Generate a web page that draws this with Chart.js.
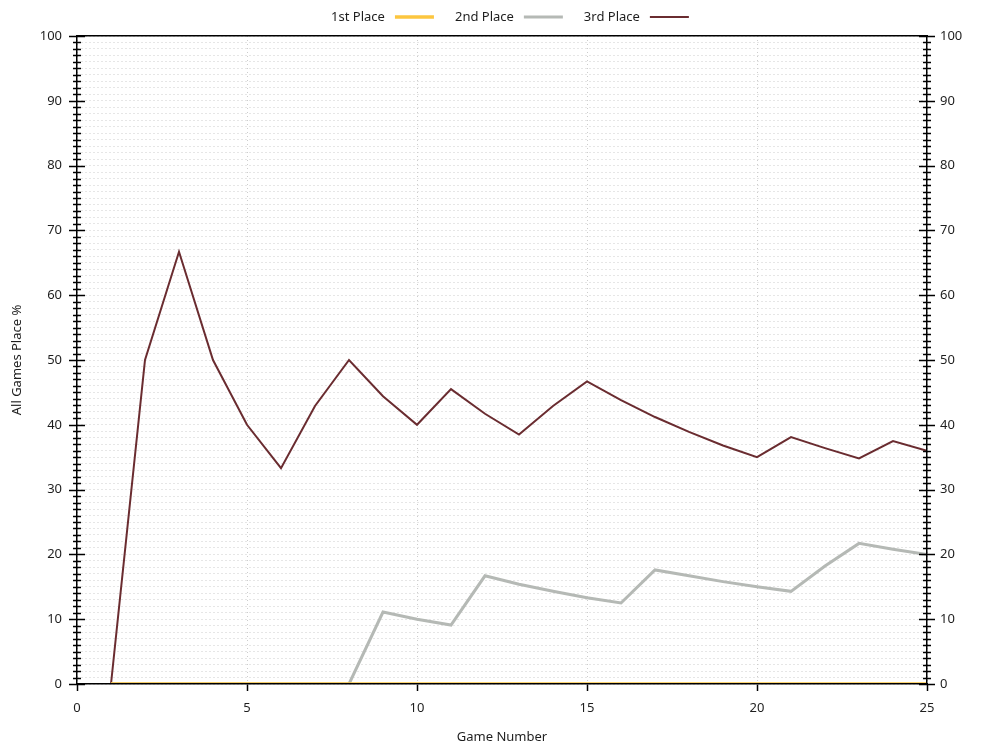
<!DOCTYPE html>
<html>
<head>
<meta charset="utf-8">
<title>All Games Place %</title>
<script src="https://cdn.jsdelivr.net/npm/chart.js@4.4.1/dist/chart.umd.min.js"></script>
<style>
  html, body { margin: 0; padding: 0; background: #ffffff; }
  #chart { display: block; }
</style>
</head>
<body>
<canvas id="chart" width="1000" height="750"></canvas>
<script>
// Game numbers along the x axis
const games = [1, 2, 3, 4, 5, 6, 7, 8, 9, 10, 11, 12, 13, 14, 15, 16, 17, 18, 19, 20, 21, 22, 23, 24, 25];

// Cumulative place percentages
const firstPlace = [0, 0, 0, 0, 0, 0, 0, 0, 0, 0, 0, 0, 0, 0, 0, 0, 0, 0, 0, 0, 0, 0, 0, 0, 0];
const secondPlace = [0, 0, 0, 0, 0, 0, 0, 0, 11.1, 10, 9.1, 16.7, 15.4, 14.3, 13.3, 12.5, 17.6, 16.7, 15.8, 15, 14.3, 18.2, 21.7, 20.8, 20];
const thirdPlace = [0, 50, 66.7, 50, 40, 33.3, 42.9, 50, 44.4, 40, 45.5, 41.7, 38.5, 42.9, 46.7, 43.8, 41.2, 38.9, 36.8, 35, 38.1, 36.4, 34.8, 37.5, 36];

// Tick settings
const xTicks = [0, 5, 10, 15, 20, 25];
const yMajorStep = 10;

const FONT = '"Noto Sans", "DejaVu Sans", sans-serif';
const TEXT_COLOR = '#1e1e1e';
const GRID_COLOR = '#cdcdcd';

function toPoints(values) {
  return values.map((v, i) => ({ x: games[i], y: v }));
}

/**
 * Crossing tick marks on both y axes (major every 10, minor every 1)
 */
const crossTicks = {
  id: 'crossTicks',
  afterDatasetsDraw(chart) {
    const ctx = chart.ctx;
    const y = chart.scales.y;
    const left = chart.chartArea.left;
    const right = chart.chartArea.right;
    ctx.save();
    ctx.strokeStyle = '#000000';
    ctx.lineWidth = 1.5;
    y.ticks.forEach((t) => {
      const py = Math.round(y.getPixelForValue(t.value)) + 0.5;
      const half = t.value % yMajorStep === 0 ? 8 : 4;
      ctx.beginPath();
      ctx.moveTo(left - half, py);
      ctx.lineTo(left + half, py);
      ctx.moveTo(right - half, py);
      ctx.lineTo(right + half, py);
      ctx.stroke();
    });
    ctx.restore();
  },
};

/**
 * Legend with the text first and the line sample after it
 */
const textFirstLegend = {
  id: 'textFirstLegend',
  afterDraw(chart) {
    const ctx = chart.ctx;
    const sets = chart.data.datasets;
    const gapText = 10;
    const sample = 39;
    const gapItem = 21;
    ctx.save();
    ctx.font = '13px ' + FONT;
    ctx.textBaseline = 'middle';
    ctx.textAlign = 'left';
    const widths = sets.map((d) => ctx.measureText(d.label).width);
    const total = widths.reduce((s, w) => s + w + gapText + sample, 0) + gapItem * (sets.length - 1);
    let x = (chart.chartArea.left + chart.chartArea.right) / 2 + 8 - total / 2;
    const yMid = 17;
    sets.forEach((d, i) => {
      ctx.fillStyle = TEXT_COLOR;
      ctx.fillText(d.label, x, yMid);
      x += widths[i] + gapText;
      ctx.strokeStyle = d.borderColor;
      ctx.lineWidth = d.borderWidth;
      ctx.beginPath();
      ctx.moveTo(x, yMid);
      ctx.lineTo(x + sample, yMid);
      ctx.stroke();
      x += sample + gapItem;
    });
    ctx.restore();
  },
};

new Chart(document.getElementById('chart'), {
  type: 'line',
  data: {
    datasets: [
      {
        label: '1st Place',
        data: toPoints(firstPlace),
        borderColor: '#fcc63f',
        backgroundColor: '#fcc63f',
        borderWidth: 3.5,
      },
      {
        label: '2nd Place',
        data: toPoints(secondPlace),
        borderColor: '#b5b9b5',
        backgroundColor: '#b5b9b5',
        borderWidth: 3,
      },
      {
        label: '3rd Place',
        data: toPoints(thirdPlace),
        borderColor: '#6a2c30',
        backgroundColor: '#6a2c30',
        borderWidth: 2,
      },
    ],
  },
  options: {
    responsive: false,
    animation: false,
    devicePixelRatio: 1,
    layout: { padding: { top: 36, left: 0, right: 0, bottom: 0 } },
    elements: {
      point: { radius: 0, hoverRadius: 0 },
      line: { tension: 0, fill: false },
    },
    plugins: {
      legend: { display: false },
      tooltip: { enabled: false },
    },
    scales: {
      x: {
        type: 'linear',
        position: 'bottom',
        min: 0,
        max: 25,
        afterBuildTicks: (s) => { s.ticks = xTicks.map((v) => ({ value: v })); },
        afterFit: (s) => { s.height = 66; },
        ticks: {
          color: TEXT_COLOR,
          font: { family: FONT, size: 13 },
          padding: 9,
          maxRotation: 0,
        },
        grid: {
          color: GRID_COLOR,
          lineWidth: 1,
          tickColor: '#000000',
          tickLength: 7,
          tickWidth: 1.5,
          tickBorderDash: [],
        },
        border: { display: true, color: '#000000', width: 1.5, dash: [1, 3], z: 1 },
        title: {
          display: true,
          text: 'Game Number',
          color: TEXT_COLOR,
          font: { family: FONT, size: 13 },
          padding: { top: 0, bottom: 5 },
        },
      },
      xTop: {
        type: 'linear',
        position: 'top',
        min: 0,
        max: 25,
        afterFit: (s) => { s.height = 0; },
        ticks: { display: false },
        grid: { display: false, drawTicks: false },
        border: { display: true, color: '#000000', width: 1.5, z: 1 },
      },
      y: {
        type: 'linear',
        position: 'left',
        min: 0,
        max: 100,
        afterFit: (s) => { s.width = 77; },
        ticks: {
          stepSize: 1,
          autoSkip: false,
          color: TEXT_COLOR,
          font: { family: FONT, size: 13 },
          padding: 15,
          callback: (v) => (v % yMajorStep === 0 ? v : ''),
        },
        grid: { color: GRID_COLOR, lineWidth: 1, drawTicks: false },
        border: { display: true, color: '#000000', width: 1.5, dash: [1, 3], z: 1 },
        title: {
          display: true,
          text: 'All Games Place %',
          color: TEXT_COLOR,
          font: { family: FONT, size: 13 },
          padding: { top: 9, bottom: 0 },
        },
      },
      y2: {
        type: 'linear',
        position: 'right',
        min: 0,
        max: 100,
        afterFit: (s) => { s.width = 73; },
        ticks: {
          stepSize: yMajorStep,
          color: TEXT_COLOR,
          font: { family: FONT, size: 13 },
          padding: 13,
        },
        grid: { drawOnChartArea: false, drawTicks: false },
        border: { display: true, color: '#000000', width: 1.5, z: 1 },
      },
    },
  },
  plugins: [crossTicks, textFirstLegend],
});
</script>
</body>
</html>
